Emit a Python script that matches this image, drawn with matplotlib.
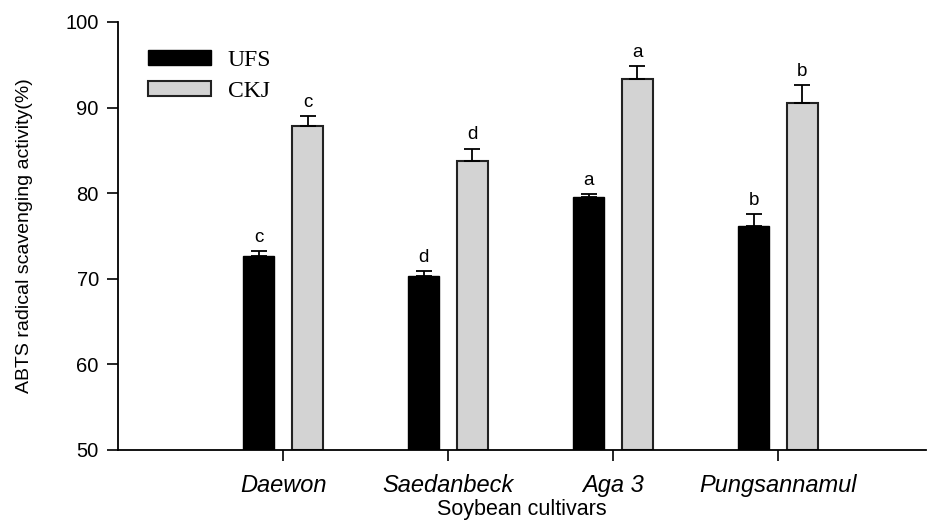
"""
ABTS radical scavenging activity of soybean cultivars (UFS vs CKJ)
"""
import numpy as np
import matplotlib.pyplot as plt
from matplotlib.patches import Patch

CULTIVARS = ['Daewon', 'Saedanbeck', 'Aga 3', 'Pungsannamul']
UFS = [72.6, 70.3, 79.6, 76.2]
UFS_ERR = [0.6, 0.6, 0.25, 1.4]
CKJ = [87.8, 83.7, 93.3, 90.5]
CKJ_ERR = [1.25, 1.5, 1.5, 2.1]
UFS_LETTERS = ['c', 'd', 'a', 'b']
CKJ_LETTERS = ['c', 'd', 'a', 'b']

plt.rcParams['font.family'] = ['Liberation Sans', 'DejaVu Sans']

fig = plt.figure(figsize=(9.31, 5.22), dpi=100)
ax = fig.add_axes([0.127, 0.138, 0.868, 0.82])

x = np.arange(len(CULTIVARS))
width = 0.19
offset = 0.148

ax.bar(x - offset, [v - 50 for v in UFS], width, bottom=50, color='black',
       edgecolor='black', linewidth=1)
ax.bar(x + offset, [v - 50 for v in CKJ], width, bottom=50, color='#d3d3d3',
       edgecolor='#222222', linewidth=1.5)
ax.errorbar(x - offset, UFS, yerr=[np.zeros(4), UFS_ERR], fmt='none',
            ecolor='black', elinewidth=1.3, capsize=6, capthick=1.3)
ax.errorbar(x + offset, CKJ, yerr=[np.zeros(4), CKJ_ERR], fmt='none',
            ecolor='black', elinewidth=1.3, capsize=6, capthick=1.3)

for i in range(len(CULTIVARS)):
    ax.text(x[i] - offset, UFS[i] + UFS_ERR[i] + 0.6, UFS_LETTERS[i],
            ha='center', va='bottom', fontsize=13.5)
    ax.text(x[i] + offset, CKJ[i] + CKJ_ERR[i] + 0.6, CKJ_LETTERS[i],
            ha='center', va='bottom', fontsize=13.5)

ax.set_xlim(-1, 3.9)
ax.set_ylim(50, 100)
ax.set_yticks([50, 60, 70, 80, 90, 100])
ax.set_xticks(x)
ax.set_xticklabels(CULTIVARS, style='italic', fontsize=17)
ax.tick_params(axis='x', direction='out', length=8, width=1.2, pad=9)
ax.tick_params(axis='y', direction='out', length=8, width=1.2, pad=6,
               labelsize=14.5)
for side in ['left', 'bottom']:
    ax.spines[side].set_linewidth(1.3)
ax.spines['top'].set_visible(False)
ax.spines['right'].set_visible(False)
ax.set_xlabel('Soybean cultivars', fontsize=15.5, labelpad=2)
ax.set_ylabel('ABTS radical scavenging activity(%)', fontsize=14, labelpad=23)

handles = [Patch(facecolor='black', edgecolor='black'),
           Patch(facecolor='#d3d3d3', edgecolor='#222222', linewidth=1.5)]
ax.legend(handles, ['UFS', 'CKJ'], loc='upper left', bbox_to_anchor=(0.01, 0.985),
          frameon=False, handlelength=2.7, handleheight=0.6, labelspacing=0.45,
          handletextpad=0.7, prop={'family': 'Liberation Serif', 'size': 17})

plt.savefig('out.png', dpi=100)
